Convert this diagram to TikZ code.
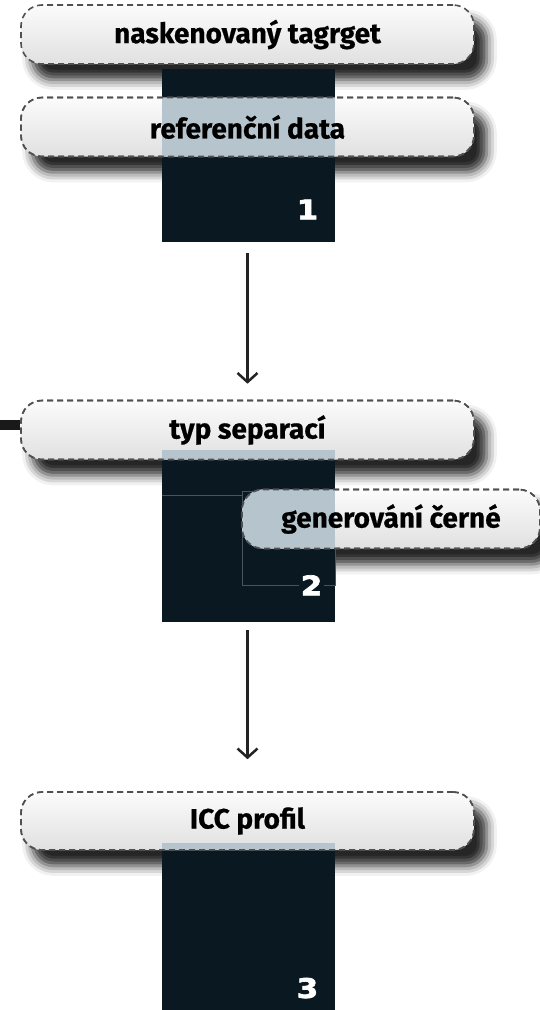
\documentclass[tikz,border=0pt]{standalone}
\usepackage{fontspec}
\setmainfont{Fira Sans}
\newfontfamily\labelfont{Fira Sans}[BoldFeatures={FakeBold=0.6}]
\newfontfamily\digitfont{DejaVu Sans}[FakeStretch=1.15, BoldFeatures={FakeBold=2.5}]
\usepackage{tikz}
\usetikzlibrary{arrows.meta,positioning,backgrounds,shadows.blur}

\definecolor{tiledark}{HTML}{0A1821}
\definecolor{tilelight}{HTML}{B6C5CD}
\definecolor{pillline}{HTML}{505052}
\definecolor{arrowgray}{HTML}{232323}

\begin{document}
\begin{tikzpicture}[x=1pt, y=-1pt,
    pill/.style={draw=pillline, line width=1.6pt, dash pattern=on 6pt off 4pt,
      rounded corners=21pt, top color=gray!3, bottom color=gray!24,
      minimum width=453pt, minimum height=59pt, inner sep=0pt,
      font=\labelfont\bfseries\fontsize{28}{32}\selectfont},
    pillshadow/.style={rounded corners=21pt,
      blur shadow={shadow xshift=12pt, shadow yshift=-15pt,
        shadow blur radius=10pt, shadow opacity=85}},
    overlap/.style={
      postaction={path picture={
        \fill[tilelight, sharp corners] (#1.north west) rectangle (#1.south east);}},
      postaction={draw=pillline, line width=1.6pt, dash pattern=on 6pt off 4pt}},
    tile/.style={fill=tiledark, inner sep=0pt, minimum width=173pt},
    stepnum/.style={fill=tiledark, text=white, inner sep=1.5pt, anchor=south east,
      font=\digitfont\bfseries\fontsize{27}{27}\selectfont},
    flow/.style={draw=arrowgray, line width=2.5pt,
      -{Straight Barb[length=9pt, width=20pt, line width=2.5pt]}}]
    \useasboundingbox (0,0) rectangle (539,1010);

    % Step 1
    \node[pill] (scan) at (247.5,34.5) {naskenovaný tagrget};
    \node[tile, minimum height=173pt] (box1) at (248.5,155.5) {};
    \node[pill, overlap=box1] (refdata) at (247.5,127) {referenční data};
    \node[stepnum] (num1) at (320,221) {1};

    % Step 2
    \node[tile, minimum height=172pt] (box2) at (248.5,536) {};
    \node[pill, overlap=box2] (sep) at (247.5,430) {typ separací};
    \fill[black!90] (0,420) rectangle (sep.west);
    \draw[tilelight!35!tiledark, line width=0.6pt] (box2.west |- 0,495) -- (242,495);
    \draw[tilelight!35!tiledark, line width=0.6pt] (242,491) rectangle (box2.east |- 0,585);
    \node[pill, overlap=box2, minimum width=298pt] (black) at (391,519) {generování černé};
    \node[stepnum] (num2) at (324,597) {2};

    % Step 3
    \node[tile, minimum height=167pt] (box3) at (248.5,926.5) {};
    \node[pill, overlap=box3, minimum height=58pt] (icc) at (247.5,821) {ICC profil};
    \node[stepnum] (num3) at (320,1000) {3};

    % Arrows
    \draw[flow, shorten <=11pt, shorten >=16pt] (box1.south -| sep.north) -- (sep.north);
    \draw[flow, shorten <=8pt, shorten >=32pt] (box2.south -| icc.north) -- (icc.north);

    % Shadows behind everything
    \begin{scope}[on background layer]
      \foreach \p in {scan,refdata,sep,black,icc}
        \path[pillshadow] (\p.south west) rectangle (\p.north east);
    \end{scope}
\end{tikzpicture}
\end{document}
